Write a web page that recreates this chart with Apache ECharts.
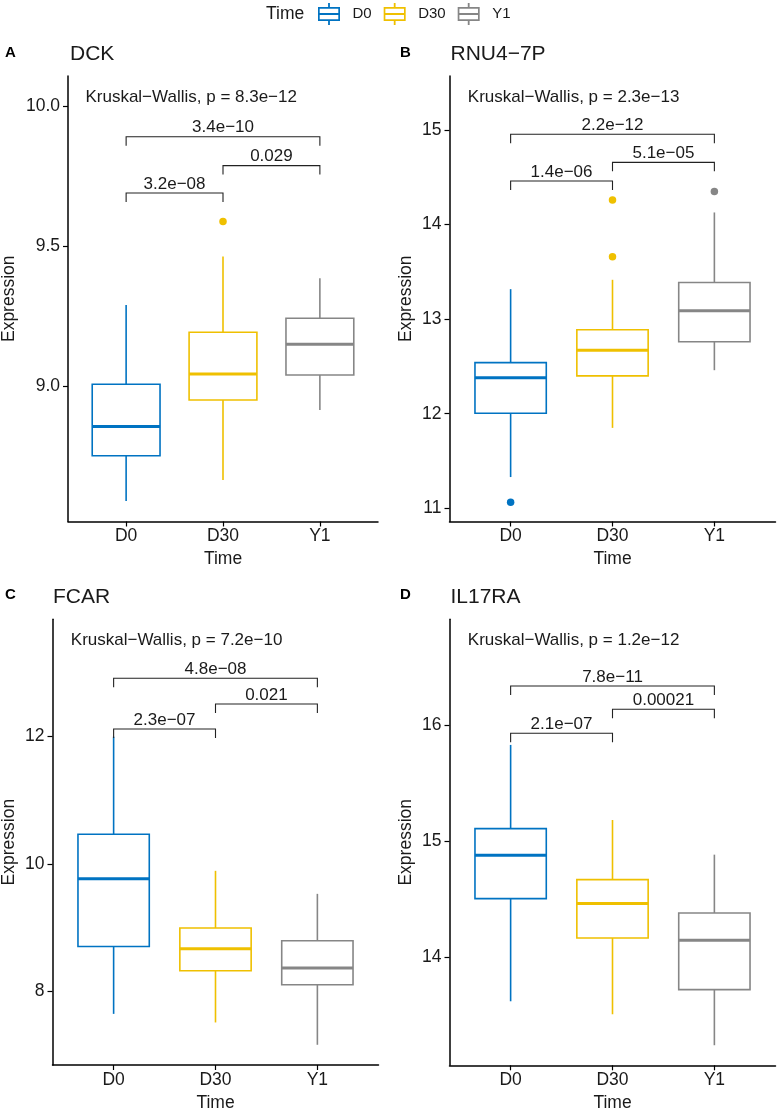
<!DOCTYPE html>
<html>
<head>
<meta charset="utf-8">
<script src="https://cdn.jsdelivr.net/npm/echarts@6/dist/echarts.min.js"></script>
<style>
  html, body { margin: 0; padding: 0; background: #fff; }
  #chart { width: 777px; height: 1111px; }
</style>
</head>
<body>
<div id="chart"></div>
<script>
const groups = ['D0', 'D30', 'Y1']
const genes = ['DCK', 'RNU4−7P', 'FCAR', 'IL17RA']
const letters = ['A', 'B', 'C', 'D']

// box stats per group: [lower whisker, Q1, median, Q3, upper whisker]
const dckBoxes = [[8.589, 8.751, 8.855, 9.006, 9.289], [8.664, 8.950, 9.043, 9.192, 9.462], [8.914, 9.039, 9.149, 9.242, 9.385]]
const rnuBoxes = [[11.33, 12.005, 12.38, 12.54, 13.317], [11.85, 12.40, 12.67, 12.887, 13.416], [12.46, 12.76, 13.088, 13.387, 14.128]]
const fcarBoxes = [[7.64, 8.70, 9.764, 10.465, 12.0], [7.505, 8.318, 8.664, 8.99, 9.89], [7.154, 8.097, 8.36, 8.79, 9.528]]
const il17Boxes = [[13.618, 14.503, 14.877, 15.106, 15.828], [13.506, 14.164, 14.46, 14.667, 15.181], [13.239, 13.718, 14.144, 14.379, 14.882]]

// outliers: [group index, value]
const dckOutliers = [[1, 9.587]]
const rnuOutliers = [[0, 11.064], [1, 14.26], [1, 13.66], [2, 14.35]]
const fcarOutliers = []
const il17Outliers = []

const kruskalP = ['8.3e−12', '2.3e−13', '7.2e−10', '1.2e−12']
const kruskalY = [10.032, 15.346, 13.51, 16.727]

// pairwise brackets: D0-Y1, D30-Y1, D0-D30
const pairs = [[1, 3], [2, 3], [1, 2]]
const dckPairP = ['3.4e−10', '0.029', '3.2e−08']
const dckPairY = [9.890, 9.787, 9.689]
const rnuPairP = ['2.2e−12', '5.1e−05', '1.4e−06']
const rnuPairY = [14.955, 14.658, 14.461]
const fcarPairP = ['4.8e−08', '0.021', '2.3e−07']
const fcarPairY = [12.918, 12.514, 12.121]
const il17PairP = ['7.8e−11', '0.00021', '2.1e−07']
const il17PairY = [16.336, 16.135, 15.928]

const yTicks = [[9.0, 9.5, 10.0], [11, 12, 13, 14, 15], [8, 10, 12], [14, 15, 16]]
const yRanges = [[8.516, 10.107], [10.860, 15.571], [6.836, 13.846], [13.066, 16.911]]

const boxStats = [dckBoxes, rnuBoxes, fcarBoxes, il17Boxes]
const outliers = [dckOutliers, rnuOutliers, fcarOutliers, il17Outliers]
const pairP = [dckPairP, rnuPairP, fcarPairP, il17PairP]
const pairY = [dckPairY, rnuPairY, fcarPairY, il17PairY]

const COLORS = ['#0073C2', '#EFC000', '#868686']
const FONT = '"Liberation Sans", Arial, Helvetica, sans-serif'
const INK = '#1a1a1a'
const BOX_WIDTH = 0.7
const TIP = 9
const KW_X = 0.58

// layout per panel
const panels = [
  { left: 68, top: 76, width: 310, height: 445.5, nameGap: 50, dec: 1, tx: 70, ty: 54, lx: 5, ly: 52.5 },
  { left: 449.5, top: 76, width: 326, height: 445.5, nameGap: 34, dec: 0, tx: 450.5, ty: 54.5, lx: 400, ly: 52.5 },
  { left: 52.5, top: 619.3, width: 326, height: 445.7, nameGap: 34, dec: 0, tx: 53, ty: 597.5, lx: 5, ly: 595 },
  { left: 449.5, top: 619.3, width: 326, height: 446, nameGap: 34, dec: 0, tx: 450.5, ty: 597.5, lx: 400, ly: 594.5 }
]

const BOX_ICON = 'path://M0 4L22 4L22 18L0 18Z M1.7 5.7L1.7 16.3L20.3 16.3L20.3 5.7Z M1.7 10.1L20.3 10.1L20.3 11.9L1.7 11.9Z M10.1 0L11.9 0L11.9 4L10.1 4Z M10.1 18L11.9 18L11.9 22L10.1 22Z'

function renderBox (params, api) {
  const x = api.value(0)
  const pLo = api.coord([x, api.value(1)])
  const pQ1 = api.coord([x, api.value(2)])
  const pMed = api.coord([x, api.value(3)])
  const pQ3 = api.coord([x, api.value(4)])
  const pHi = api.coord([x, api.value(5)])
  const color = api.visual('color')
  const half = api.size([BOX_WIDTH, 0])[0] / 2
  const thin = { stroke: color, lineWidth: 1.6 }
  return {
    type: 'group',
    children: [
      { type: 'line', shape: { x1: pHi[0], y1: pHi[1], x2: pQ3[0], y2: pQ3[1] }, style: thin },
      { type: 'line', shape: { x1: pQ1[0], y1: pQ1[1], x2: pLo[0], y2: pLo[1] }, style: thin },
      { type: 'rect', shape: { x: pQ3[0] - half, y: pQ3[1], width: half * 2, height: pQ1[1] - pQ3[1] }, style: { fill: '#fff', stroke: color, lineWidth: 1.6 } },
      { type: 'line', shape: { x1: pMed[0] - half, y1: pMed[1], x2: pMed[0] + half, y2: pMed[1] }, style: { stroke: color, lineWidth: 3 } }
    ]
  }
}

function bracketRenderer (labels) {
  return function (params, api) {
    const a = api.coord([api.value(0), api.value(2)])
    const b = api.coord([api.value(1), api.value(2)])
    return {
      type: 'group',
      children: [
        { type: 'polyline', shape: { points: [[a[0], a[1] + TIP], a, b, [b[0], b[1] + TIP]] }, style: { stroke: '#222', lineWidth: 1.1, fill: null } },
        { type: 'text', x: (a[0] + b[0]) / 2, y: a[1] - 0.5, style: { text: labels[params.dataIndex], fontFamily: FONT, fontSize: 17, fill: INK, align: 'center', verticalAlign: 'bottom' } }
      ]
    }
  }
}

function kruskalRenderer (p) {
  return function (params, api) {
    const pt = api.coord([api.value(0), api.value(1)])
    return {
      type: 'text', x: pt[0], y: pt[1],
      style: { text: 'Kruskal−Wallis, p = ' + p, fontFamily: FONT, fontSize: 17, fill: INK, align: 'left', verticalAlign: 'middle' }
    }
  }
}

const grid = []
const xAxis = []
const yAxis = []
const series = []
const texts = []

panels.forEach((pn, p) => {
  grid.push({ left: pn.left, top: pn.top, width: pn.width, height: pn.height, outerBoundsMode: 'none', containLabel: false })
  xAxis.push({
    type: 'value', gridIndex: p, min: 0.4, max: 3.6,
    axisLine: { show: true, onZero: false, lineStyle: { color: '#000', width: 1.5 } },
    axisTick: { show: true, customValues: [1, 2, 3], length: 5, lineStyle: { color: '#000', width: 1.2 } },
    axisLabel: { customValues: [1, 2, 3], formatter: v => groups[Math.round(v) - 1], fontFamily: FONT, fontSize: 17.5, color: INK, margin: 6 },
    splitLine: { show: false },
    name: 'Time', nameLocation: 'middle', nameGap: 29,
    nameTextStyle: { fontFamily: FONT, fontSize: 17.5, color: INK }
  })
  yAxis.push({
    type: 'value', gridIndex: p, min: yRanges[p][0], max: yRanges[p][1],
    axisLine: { show: true, onZero: false, lineStyle: { color: '#000', width: 1.5 } },
    axisTick: { show: true, customValues: yTicks[p], length: 5, lineStyle: { color: '#000', width: 1.2 } },
    axisLabel: { customValues: yTicks[p], formatter: v => v.toFixed(pn.dec), fontFamily: FONT, fontSize: 17.5, color: INK, margin: 8 },
    splitLine: { show: false },
    name: 'Expression', nameLocation: 'middle', nameGap: pn.nameGap,
    nameTextStyle: { fontFamily: FONT, fontSize: 17.5, color: INK }
  })

  groups.forEach((g, gi) => {
    series.push({
      type: 'custom', name: g, xAxisIndex: p, yAxisIndex: p,
      itemStyle: { color: COLORS[gi] },
      encode: { x: 0, y: [1, 2, 3, 4, 5] },
      data: [[gi + 1].concat(boxStats[p][gi])],
      renderItem: renderBox,
      z: 2
    })
    series.push({
      type: 'scatter', name: g, xAxisIndex: p, yAxisIndex: p,
      symbolSize: 7.5, itemStyle: { color: COLORS[gi], opacity: 1 },
      data: outliers[p].filter(o => o[0] === gi).map(o => [gi + 1, o[1]]),
      z: 3
    })
  })

  series.push({
    type: 'custom', xAxisIndex: p, yAxisIndex: p,
    encode: { x: [0, 1], y: 2 },
    data: pairs.map((pr, i) => [pr[0], pr[1], pairY[p][i]]),
    renderItem: bracketRenderer(pairP[p]),
    z: 4
  })
  series.push({
    type: 'custom', xAxisIndex: p, yAxisIndex: p,
    data: [[KW_X, kruskalY[p]]],
    renderItem: kruskalRenderer(kruskalP[p]),
    z: 4
  })

  texts.push({ type: 'text', x: pn.lx, y: pn.ly, style: { text: letters[p], fontFamily: FONT, fontSize: 15, fontWeight: 'bold', fill: '#000', verticalAlign: 'middle' } })
  texts.push({ type: 'text', x: pn.tx, y: pn.ty, style: { text: genes[p], fontFamily: FONT, fontSize: 21, fill: INK, verticalAlign: 'middle' } })
})

texts.push({ type: 'text', x: 266, y: 14, style: { text: 'Time', fontFamily: FONT, fontSize: 17.5, fill: INK, verticalAlign: 'middle' } })

const chart = echarts.init(document.getElementById('chart'), null, { renderer: 'canvas' })
chart.setOption({
  backgroundColor: '#fff',
  animation: false,
  legend: {
    left: 318, top: 3, padding: 0,
    itemWidth: 23, itemHeight: 22, itemGap: 12,
    icon: BOX_ICON,
    selectedMode: false,
    data: groups.map((g, i) => ({ name: g, itemStyle: { color: COLORS[i], borderWidth: 0 } })),
    textStyle: { fontFamily: FONT, fontSize: 15, color: INK, padding: [0, 0, 0, 7] }
  },
  graphic: { elements: texts },
  grid: grid,
  xAxis: xAxis,
  yAxis: yAxis,
  series: series
})
</script>
</body>
</html>
